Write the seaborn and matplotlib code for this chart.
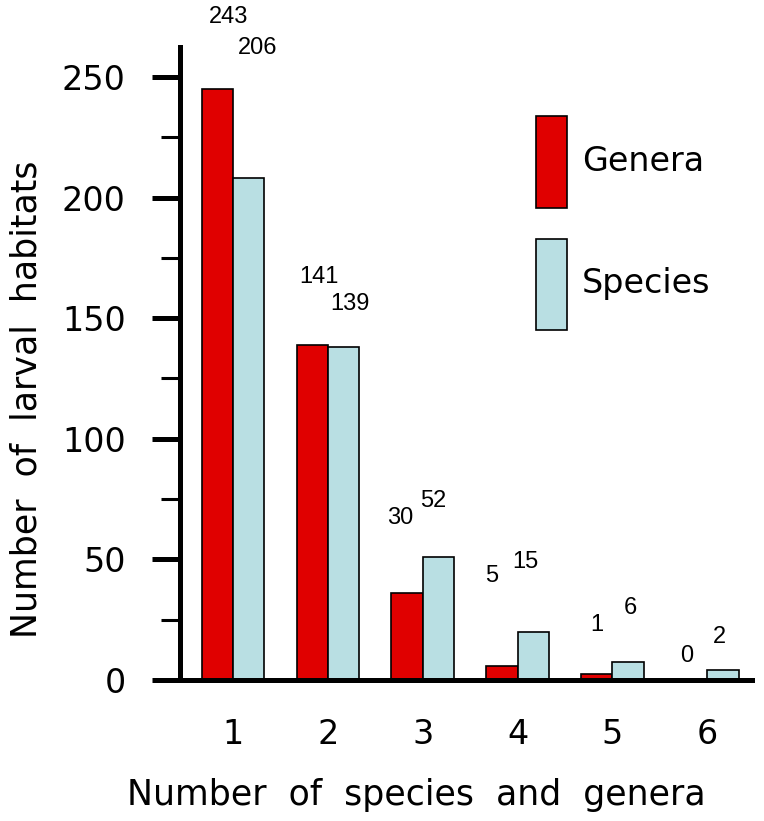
import pandas as pd
import seaborn as sns
import matplotlib.pyplot as plt
from matplotlib.patches import Patch
from matplotlib.ticker import MultipleLocator

# Values
groups = ['1', '2', '3', '4', '5', '6']
genera = [245, 139, 36, 6, 2.5, 0]
species = [208, 138, 51, 20, 7.5, 4]
# numbers printed above the bars
genera_labels = ['243', '141', '30', '5', '1', '0']
species_labels = ['206', '139', '52', '15', '6', '2']
series = ['Genera', 'Species']
colors = ['#e00000', '#b9dfe3']

# where the printed numbers sit (x offset from group, y in data units)
genera_lab_dx = [-0.05, -0.10, -0.24, -0.27, -0.16, -0.22]
genera_lab_y = [275, 167, 67, 43, 23, 10]
species_lab_dx = [0.26, 0.23, 0.11, 0.08, 0.19, 0.13]
species_lab_y = [262, 156, 74, 49, 30, 18]

df = pd.DataFrame({
    'group': groups * 2,
    'count': genera + species,
    'type': [series[0]] * len(groups) + [series[1]] * len(groups),
})

sns.set_theme(style='white')
plt.rcParams['font.family'] = ['DejaVu Sans']
plt.rcParams.update({'text.color': 'black', 'axes.labelcolor': 'black',
                     'xtick.color': 'black', 'ytick.color': 'black'})

fig, ax = plt.subplots(figsize=(7.64, 8.21), dpi=100)
fig.subplots_adjust(left=0.2356, right=0.984, bottom=0.1717, top=0.9428)

sns.barplot(data=df, x='group', y='count', hue='type', palette=colors,
            saturation=1, width=0.66, edgecolor='black', linewidth=1.2,
            errorbar=None, legend=False, ax=ax)

# annotations
for i in range(len(groups)):
    ax.text(i + genera_lab_dx[i], genera_lab_y[i], genera_labels[i],
            ha='center', va='center', fontsize=17, family='Liberation Sans',
            clip_on=False)
    ax.text(i + species_lab_dx[i], species_lab_y[i], species_labels[i],
            ha='center', va='center', fontsize=17, family='Liberation Sans',
            clip_on=False)

ax.set_xlim(-0.56, 5.47)
ax.set_ylim(0, 262.4)
ax.set_yticks([0, 50, 100, 150, 200, 250])
ax.yaxis.set_minor_locator(MultipleLocator(25))

for s in ['top', 'right']:
    ax.spines[s].set_visible(False)
for s in ['left', 'bottom']:
    ax.spines[s].set_linewidth(3.6)
    ax.spines[s].set_color('black')

ax.tick_params(axis='y', which='major', length=20, width=3.6, pad=19,
               labelsize=24, left=True, direction='out')
ax.tick_params(axis='y', which='minor', length=14, width=2.2,
               left=True, direction='out')
ax.tick_params(axis='x', length=0, pad=27, labelsize=24)

ax.set_xlabel('Number  of  species  and  genera', fontsize=25)
ax.set_ylabel('Number  of  larval  habitats', fontsize=25)
ax.xaxis.set_label_coords(0.413, -0.155)
ax.yaxis.set_label_coords(-0.238, 0.444)

handles = [Patch(facecolor=c, edgecolor='black', linewidth=1.2) for c in colors]
ax.legend(handles, series, loc='upper left',
          bbox_to_anchor=(536 / 764, 1 - 116 / 821),
          bbox_transform=fig.transFigure, frameon=False, fontsize=24,
          handlelength=0.93, handleheight=3.85, labelspacing=0.93,
          handletextpad=0.45, borderpad=0, borderaxespad=0)

fig.savefig('out.png', dpi=100)
